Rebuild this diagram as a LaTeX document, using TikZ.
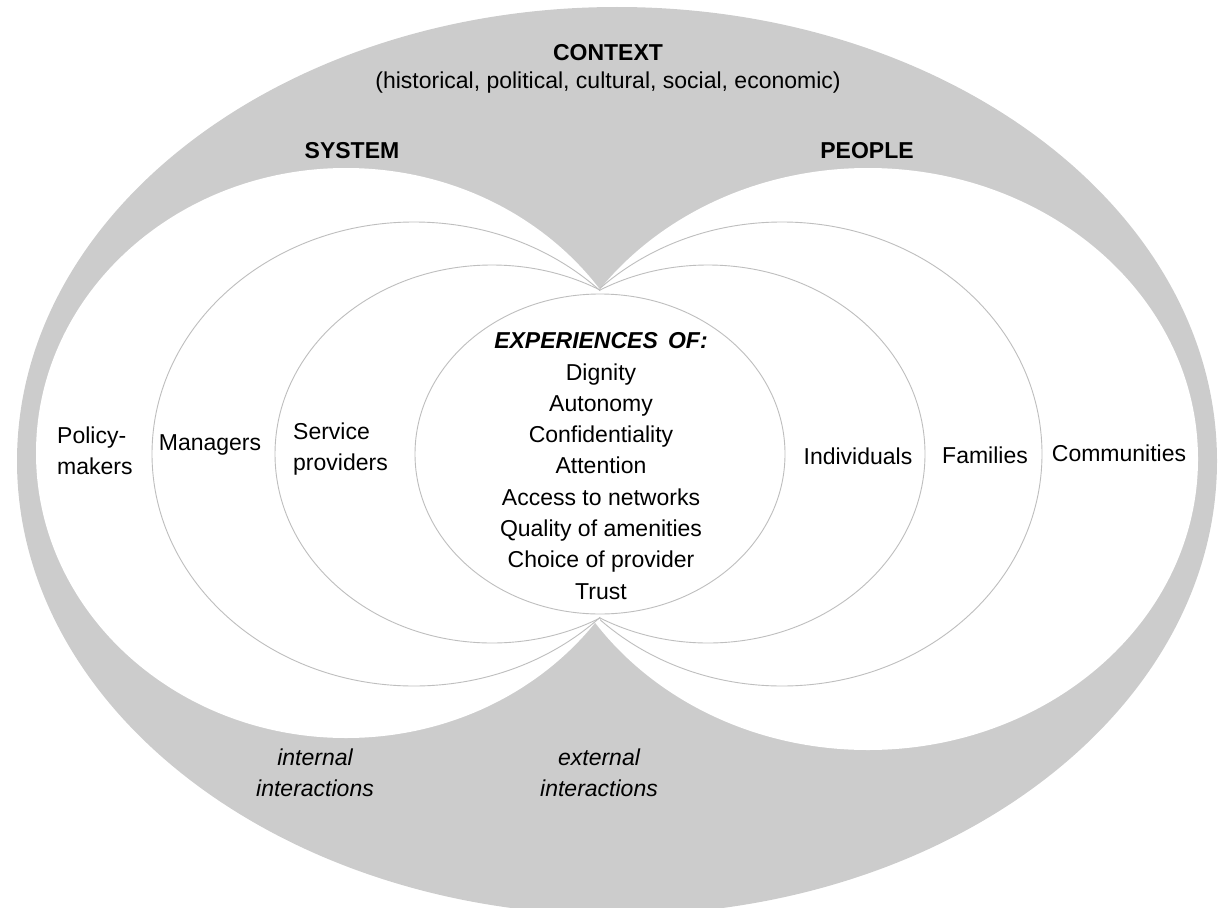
\documentclass[tikz,border=0pt]{standalone}
\usepackage{fontspec}
\setmainfont{Liberation Sans}
\definecolor{ctxgray}{RGB}{204,204,204}
\definecolor{ringline}{RGB}{190,190,190}
\begin{document}
\begin{tikzpicture}[x=1pt,y=-1pt,
  lbl/.style={font=\fontsize{23}{31.3}\selectfont, inner sep=0pt, text=black},
  lblb/.style={lbl, font=\fontsize{23}{31.3}\selectfont\bfseries},
  lbli/.style={lbl, font=\fontsize{23}{31.3}\selectfont\itshape},
  ring/.style={draw=ringline, line width=0.9pt}]
\useasboundingbox (0,0) rectangle (1220,907);
% context
\fill[ctxgray] (617,461) ellipse [x radius=600pt, y radius=454pt];
% system and people areas
\fill[white] (346,453) ellipse [x radius=310pt, y radius=285pt];
\fill[white] (868,459) ellipse [x radius=330pt, y radius=291pt];
% rings of the system side
\begin{scope}
  \clip (0,0) rectangle (600,907);
  \draw[ring] (414,454) ellipse [x radius=262pt, y radius=232pt];
  \draw[ring] (492,454) ellipse [x radius=217pt, y radius=189pt];
\end{scope}
% rings of the people side
\begin{scope}
  \clip (600,0) rectangle (1220,907);
  \draw[ring] (708,454) ellipse [x radius=217pt, y radius=189pt];
  \draw[ring] (782,454) ellipse [x radius=260pt, y radius=232pt];
\end{scope}
% experiences circle
\draw[ring] (600,454) ellipse [x radius=185pt, y radius=160pt];
% labels
\node[lblb] (context) at (608,53) {CONTEXT};
\node[lbl] (contextsub) at (608,83) {(historical, political, cultural, social, economic)};
\node[lblb] (system) at (352,151) {SYSTEM};
\node[lblb] (people) at (867,151) {PEOPLE};
\node[lbl, align=left, anchor=west] (policy) at (57,451) {Policy-\\makers};
\node[lbl] (managers) at (210,445) {Managers};
\node[lbl, align=left, anchor=west] (service) at (293,449) {Service\\providers};
\node[lbl, align=center] (exp) at (601,466) {\textbf{\textit{EXPERIENCES~\,OF:}}\\Dignity\\Autonomy\\Confidentiality\\Attention\\Access to networks\\Quality of amenities\\Choice of provider\\Trust};
\node[lbl] (indiv) at (858,456) {Individuals};
\node[lbl] (fam) at (985,455) {Families};
\node[lbl] (comm) at (1119,453) {Communities};
\node[lbli, align=center] (internal) at (315,773) {internal\\interactions};
\node[lbli, align=center] (external) at (599,773) {external\\interactions};
\end{tikzpicture}
\end{document}
